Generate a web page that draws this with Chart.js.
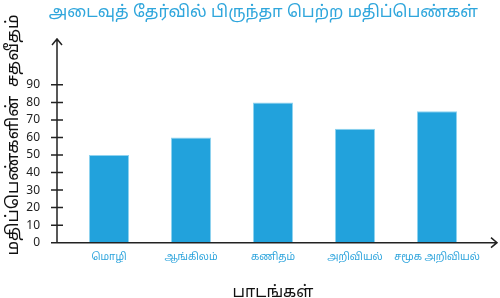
<!DOCTYPE html>
<html>
<head>
<meta charset="utf-8">
<script src="https://cdn.jsdelivr.net/npm/chart.js@4"></script>
<style>
  body { margin: 0; background: #fff; }
  #wrap { width: 500px; height: 298px; }
</style>
</head>
<body>
<div id="wrap"><canvas id="chart"></canvas></div>
<script>
const subjects = ["மொழி", "ஆங்கிலம்", "கணிதம்", "அறிவியல்", "சமூக அறிவியல்"];
const scores = [50, 60, 80, 65, 75];
const yTicks = [0, 10, 20, 30, 40, 50, 60, 70, 80, 90];
const yTitle = "மதிப்பெண்களின்  சதவீதம்";

const FONT = "'Noto Sans', 'Noto Sans Tamil', sans-serif";

// axis lines with arrow heads and small cross ticks, like the original
const axesPlugin = {
  id: "arrowAxes",
  afterDraw(chart) {
    const ctx = chart.ctx;
    const y = chart.scales.y;
    const area = chart.chartArea;
    const ax = area.left - 11;
    const ay = y.getPixelForValue(0);
    ctx.save();
    ctx.strokeStyle = "#222";
    ctx.lineWidth = 1.5;
    ctx.beginPath();
    ctx.moveTo(ax, ay);
    ctx.lineTo(ax, 39);
    ctx.moveTo(ax - 5, 45);
    ctx.lineTo(ax, 39);
    ctx.lineTo(ax + 5, 45);
    ctx.moveTo(ax, ay);
    ctx.lineTo(497, ay);
    ctx.moveTo(491, ay - 5);
    ctx.lineTo(497, ay);
    ctx.lineTo(491, ay + 5);
    y.ticks.forEach((t) => {
      const py = y.getPixelForValue(t.value);
      ctx.moveTo(ax - 6, py);
      ctx.lineTo(ax + 6, py);
    });
    ctx.stroke();

    // y axis title sits higher than the plot centre in the original
    ctx.translate(13, 135);
    ctx.rotate(-Math.PI / 2);
    ctx.fillStyle = "#111";
    ctx.font = "17px " + FONT;
    ctx.textAlign = "center";
    ctx.textBaseline = "middle";
    ctx.fillText(yTitle, 0, 0);
    ctx.restore();
  },
};

new Chart(document.getElementById("chart"), {
  type: "bar",
  data: {
    labels: subjects,
    datasets: [
      {
        data: scores,
        backgroundColor: "#22a2dc",
        borderColor: "#8fd3f0",
        borderWidth: 1,
        barPercentage: 0.49,
        categoryPercentage: 1,
      },
    ],
  },
  options: {
    responsive: true,
    maintainAspectRatio: false,
    animation: false,
    layout: { padding: { left: 3, right: 22, top: 0, bottom: 0 } },
    plugins: {
      legend: { display: false },
      tooltip: { enabled: false },
      title: {
        display: true,
        text: "அடைவுத் தேர்வில் பிருந்தா பெற்ற மதிப்பெண்கள்",
        color: "#2fa6dc",
        align: "end",
        font: { family: FONT, size: 16.5, weight: "normal" },
        padding: { top: 2, bottom: 45.5 },
      },
    },
    scales: {
      x: {
        grid: { display: false },
        border: { display: false },
        ticks: {
          color: "#2ba3dc",
          font: { family: FONT, size: 10 },
          padding: 0,
          maxRotation: 0,
          autoSkip: false,
        },
        title: {
          display: true,
          text: "பாடங்கள்",
          color: "#111",
          font: { family: FONT, size: 16 },
          padding: { top: 0, bottom: -4 },
        },
        afterFit: (s) => { s.height = 55.3; },
      },
      y: {
        min: 0,
        max: 100,
        grid: { display: false },
        border: { display: false },
        afterBuildTicks: (s) => { s.ticks = yTicks.map((v) => ({ value: v })); },
        ticks: {
          color: "#222",
          font: { family: FONT, size: 12 },
          padding: 20,
        },
        afterFit: (s) => { s.width = 65; },
      },
    },
  },
  plugins: [axesPlugin],
});
</script>
</body>
</html>
